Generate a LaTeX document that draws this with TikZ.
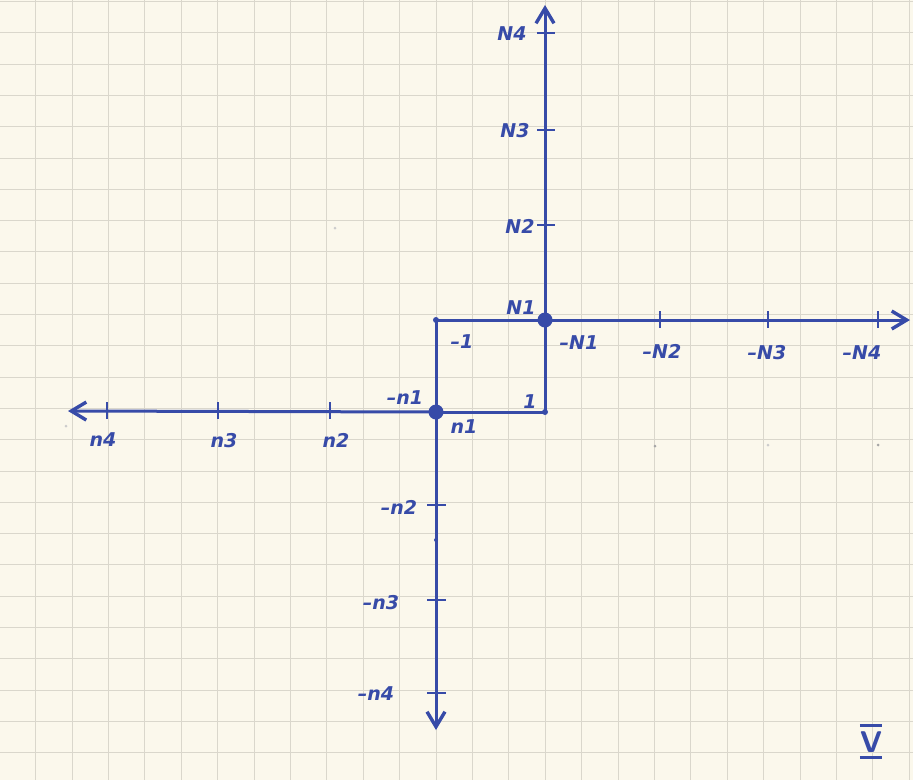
\documentclass[tikz,border=0pt]{standalone}
\usepackage{fontspec}
\setmainfont{DejaVu Sans}
\usetikzlibrary{arrows.meta}
\definecolor{paper}{RGB}{251,248,236}
\definecolor{gridc}{RGB}{218,215,204}
\definecolor{ink}{RGB}{55,75,168}
\tikzset{
  axis/.style={draw=ink, line width=3pt},
  arr/.style={-{Straight Barb[length=15pt,width=18pt,line width=3.4pt]}},
  tickmark/.style={draw=ink, line width=2.6pt},
  lab/.style={text=ink, font=\fontsize{19}{22}\selectfont\bfseries\itshape, inner sep=0pt},
  bigdot/.style={circle, fill=ink, inner sep=0pt, minimum size=15pt},
  smalldot/.style={circle, fill=ink, inner sep=0pt, minimum size=6pt},
  speck/.style={circle, fill=gray!70, inner sep=0pt, minimum size=3pt},
}
\begin{document}
\begin{tikzpicture}[x=1pt,y=-1pt]
\useasboundingbox (0,0) rectangle (913,780);
\fill[paper] (0,0) rectangle (913,780);
% graph paper
\foreach \k in {0,...,24} {
  \draw[gridc, line width=1pt] ({35.6+36.4*\k},0) -- ({35.6+36.4*\k},780);
}
\foreach \k in {0,...,24} {
  \draw[gridc, line width=1pt] (0,{1.5+31.3*\k}) -- (913,{1.5+31.3*\k});
}
% key points
\coordinate (O1) at (545,320);
\coordinate (O2) at (436,412);
\coordinate (C1) at (436,320);
\coordinate (C2) at (545,412);
\coordinate (Ytop) at (545,5);
\coordinate (Xright) at (910,320);
\coordinate (Xleft) at (68,411);
\coordinate (Ybot) at (436,730);
% square
\draw[axis] (C1) -- (O1) -- (C2) -- (O2) -- cycle;
% axes
\draw[axis,arr] (O1) -- (Ytop);
\draw[axis,arr] (O1) -- (Xright);
\draw[axis,arr] (O2) -- (Xleft);
\draw[axis,arr] (O2) -- (Ybot);
% ticks upper vertical
\foreach \y in {225,130,33} \draw[tickmark] (537,\y) -- (555,\y);
% ticks right horizontal
\foreach \x in {660,768,878} \draw[tickmark] (\x,311) -- (\x,328);
% ticks left horizontal
\foreach \x in {330,218,107} \draw[tickmark] (\x,402) -- (\x,419);
% ticks lower vertical
\foreach \y in {505,600,693} \draw[tickmark] (427,\y) -- (446,\y);
% dots
\node[bigdot] (d1) at (O1) {};
\node[bigdot] (d2) at (O2) {};
\node[smalldot] (d3) at (C1) {};
\node[smalldot] (d4) at (C2) {};
\node[smalldot, minimum size=4pt] (d5) at (436,540) {};
% specks on the paper
\node[speck] (s1) at (655,446) {};
\node[speck] (s2) at (878,445) {};
\node[speck, fill=gray!40] (s3) at (768,445) {};
\node[speck, fill=gray!40] (s4) at (335,228) {};
\node[speck, fill=gray!40] (s5) at (66,426) {};
% labels upper
\node[lab] (N1) at (521,308) {N1};
\node[lab] (N2) at (520,226) {N2};
\node[lab] (N3) at (515,131) {N3};
\node[lab] (N4) at (512,34) {N4};
\node[lab] (mN1) at (579,343) {–N1};
\node[lab] (mN2) at (662,351) {–N2};
\node[lab] (mN3) at (767,353) {–N3};
\node[lab] (mN4) at (862,353) {–N4};
% labels lower
\node[lab] (n1) at (464,427) {n1};
\node[lab] (n2) at (336,440) {n2};
\node[lab] (n3) at (224,441) {n3};
\node[lab] (n4) at (103,440) {n4};
\node[lab] (mn1) at (405,398) {–n1};
\node[lab] (mn2) at (399,507) {–n2};
\node[lab] (mn3) at (381,603) {–n3};
\node[lab] (mn4) at (376,694) {–n4};
% square labels
\node[lab] (m1) at (462,342) {–1};
\node[lab] (p1) at (530,402) {1};
% V mark
\node[text=ink, font=\fontsize{30}{32}\selectfont\bfseries\sffamily, inner sep=0pt] (V) at (871,742) {V};
\draw[ink, line width=3pt] ([yshift=6pt]V.north west) -- ([yshift=6pt]V.north east);
\draw[ink, line width=3pt] ([yshift=-5pt]V.south west) -- ([yshift=-5pt]V.south east);
\end{tikzpicture}
\end{document}
